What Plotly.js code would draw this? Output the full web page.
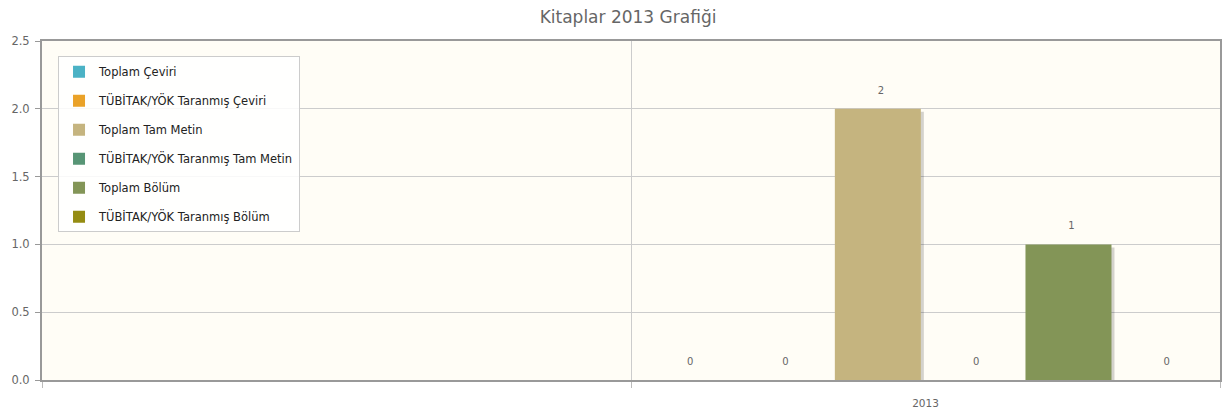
<!DOCTYPE html>
<html>
<head>
<meta charset="utf-8">
<script src="https://cdn.plot.ly/plotly-3.0.1.min.js"></script>
<style>html,body{margin:0;padding:0;background:#fff;}#chart{width:1229px;height:419px;}</style>
</head>
<body>
<div id="chart"></div>
<script>
const categories = [' ', '2013'];
const seriesNames = ['Toplam Çeviri', 'TÜBİTAK/YÖK Taranmış Çeviri', 'Toplam Tam Metin', 'TÜBİTAK/YÖK Taranmış Tam Metin', 'Toplam Bölüm', 'TÜBİTAK/YÖK Taranmış Bölüm'];
const seriesValues = [0, 0, 2, 0, 1, 0];
const seriesColors = ['#4bb2c5', '#EAA228', '#c5b47f', '#579575', '#839557', '#958c12'];
const yTicks = [0, 0.5, 1.0, 1.5, 2.0, 2.5];

const groupWidth = 0.971;
const slot = groupWidth / seriesNames.length;
const barWidth = 0.146;
const shadowDx = 0.0051;
const shadowDy = 0.022;

const shadows = [];
const mains = [];
seriesNames.forEach((name, i) => {
  const off = -groupWidth / 2 + i * slot + (slot - barWidth) / 2;
  shadows.push({
    type: 'bar', x: [categories[1]], y: [seriesValues[i]], base: [-shadowDy],
    offset: off + shadowDx, width: barWidth,
    marker: {color: 'rgba(0,0,0,0.17)', line: {width: 0}},
    text: [String(seriesValues[i]) + '<br> '], textposition: 'outside', cliponaxis: true,
    textfont: {family: 'DejaVu Sans', size: 10, color: '#666666'},
    showlegend: false, hoverinfo: 'skip', legendgroup: 'g' + i
  });
  mains.push({
    type: 'bar', name: name, x: [categories[1]], y: [seriesValues[i]],
    offset: off, width: barWidth,
    marker: {color: seriesColors[i], line: {width: 0}},
    legendgroup: 'g' + i
  });
});

const layout = {
  width: 1229, height: 419,
  margin: {l: 42, r: 9, t: 41, b: 39},
  paper_bgcolor: '#ffffff', plot_bgcolor: '#fffdf6',
  barmode: 'overlay',
  font: {family: 'DejaVu Sans', color: '#666666'},
  title: {text: 'Kitaplar 2013 Grafiği', x: 0.511, xanchor: 'center', y: 0.96, yanchor: 'middle',
          font: {family: 'DejaVu Sans', size: 17, color: '#666666'}},
  xaxis: {
    type: 'category', categoryorder: 'array', categoryarray: categories,
    range: [-0.5, 1.5], tickson: 'boundaries', ticks: 'outside', ticklen: 6, tickcolor: '#bbbbbb',
    ticklabelstandoff: 12,
    showgrid: true, gridcolor: '#cccccc', gridwidth: 1,
    showline: true, mirror: true, linecolor: '#999999', linewidth: 2,
    tickfont: {family: 'DejaVu Sans', size: 10.5, color: '#666666'}, fixedrange: true, zeroline: false
  },
  yaxis: {
    range: [0, 2.5], tickvals: yTicks, tickformat: '.1f', ticks: 'outside', ticklen: 5, tickcolor: '#999999',
    ticklabelstandoff: 3,
    showgrid: true, gridcolor: '#cccccc', gridwidth: 1, zeroline: false,
    showline: true, mirror: true, linecolor: '#999999', linewidth: 2,
    tickfont: {family: 'DejaVu Sans', size: 11.5, color: '#666666'}, fixedrange: true
  },
  legend: {
    x: 0.0136, y: 0.955, xanchor: 'left', yanchor: 'top',
    bgcolor: 'rgba(255,255,255,0.85)', bordercolor: '#cccccc', borderwidth: 1,
    font: {family: 'DejaVu Sans', size: 11.5, color: '#222222'},
    traceorder: 'grouped', tracegroupgap: 10
  },
  showlegend: true
};

Plotly.newPlot('chart', shadows.concat(mains), layout, {displayModeBar: false, staticPlot: true});
</script>
</body>
</html>
